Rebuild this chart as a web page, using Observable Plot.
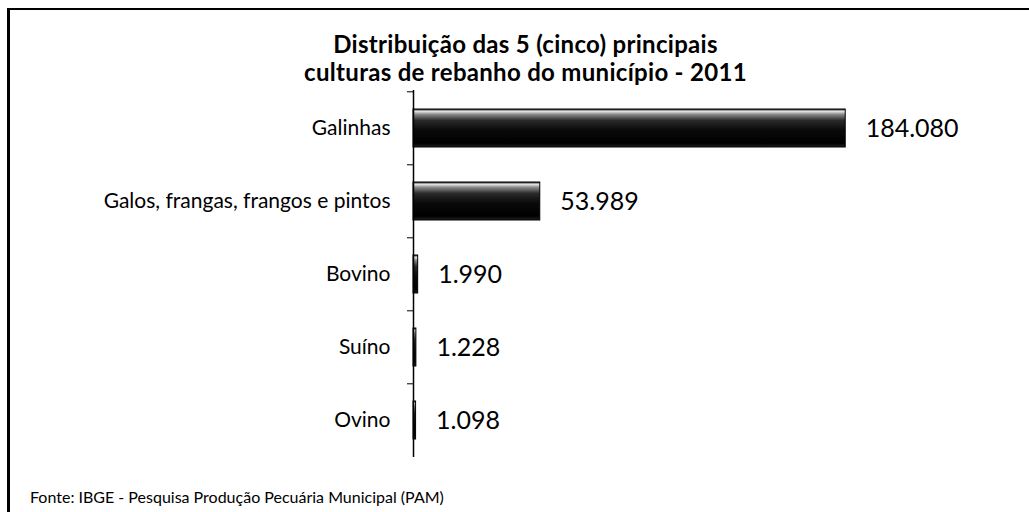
<!DOCTYPE html>
<html>
<head>
<meta charset="utf-8">
<script src="https://cdn.jsdelivr.net/npm/d3@7"></script>
<script src="https://cdn.jsdelivr.net/npm/@observablehq/plot@0.6"></script>
<style>
  html, body { margin: 0; padding: 0; background: #fff; }
  #wrap { position: relative; width: 1029px; height: 512px; overflow: hidden; background: #fff; font-family: Lato, "Open Sans", sans-serif; color: #000; }
  #borderTop { position: absolute; left: 7px; top: 8px; width: 1022px; height: 2px; background: #000; }
  #borderLeft { position: absolute; left: 7px; top: 8px; width: 3px; height: 504px; background: #000; }
  #title { position: absolute; left: 0; width: 1029px; top: 30px; padding-left: 22px; box-sizing: border-box; text-align: center; font-weight: bold; font-size: 24px; line-height: 28px; letter-spacing: 0.3px; }
  #chart { position: absolute; left: 0; top: 85px; }
  #footer { position: absolute; left: 30px; top: 487px; font-size: 16px; line-height: 20px; }
</style>
</head>
<body>
<div id="wrap">
  <div id="borderTop"></div>
  <div id="borderLeft"></div>
  <div id="title"></div>
  <div id="chart"></div>
  <div id="footer"></div>
</div>
<script>
const titleLines = ["Distribuição das 5 (cinco) principais", "culturas de rebanho do município - 2011"];
const footerText = "Fonte: IBGE - Pesquisa Produção Pecuária Municipal (PAM)";
const categories = ["Galinhas", "Galos, frangas, frangos e pintos", "Bovino", "Suíno", "Ovino"];
const values = [184080, 53989, 1990, 1228, 1098];

const data = categories.map((c, i) => ({category: c, value: values[i]}));
const fmt = d3.formatLocale({decimal: ",", thousands: ".", grouping: [3], currency: ["", ""]}).format(",");

document.getElementById("title").innerHTML = titleLines.join("<br>");
document.getElementById("footer").textContent = footerText;

const defs = () => {
  const d = d3.create("svg:defs");
  const g = d.append("linearGradient").attr("id", "barGrad").attr("x1", 0).attr("y1", 0).attr("x2", 0).attr("y2", 1);
  [[0, "#111"], [0.06, "#e6e6e6"], [0.14, "#8a8a8a"], [0.3, "#2a2a2a"], [0.55, "#0a0a0a"], [0.9, "#000"], [1, "#222"]]
    .forEach(([o, c]) => g.append("stop").attr("offset", o).attr("stop-color", c));
  return d.node();
};

const H = 384, mTop = 5, mBottom = 12;
const step = (H - mTop - mBottom) / categories.length;

const chart = Plot.plot({
  width: 1029,
  height: H,
  marginTop: mTop,
  marginBottom: mBottom,
  marginLeft: 413,
  marginRight: 29,
  x: {domain: [0, 250000], axis: null},
  y: {domain: categories, paddingInner: 0.48, paddingOuter: 0.24, label: null, axis: null},
  style: {fontFamily: "Lato, 'Open Sans', sans-serif", color: "#000", background: "transparent"},
  marks: [
    defs,
    Plot.barX(data, {x: "value", y: "category", fill: "url(#barGrad)", stroke: "#000", strokeWidth: 1}),
    Plot.axisY({tickSize: 0, tickPadding: 23, fontSize: 21, label: null}),
    Plot.axisY({tickSize: 6, text: null, label: null, dy: -step / 2, stroke: "#000"}),
    Plot.ruleX([0], {stroke: "#000", strokeWidth: 1.5}),
    Plot.text(data, {x: "value", y: "category", text: d => fmt(d.value), dx: 20, textAnchor: "start", fontSize: 25, fill: "#000"})
  ]
});
document.getElementById("chart").appendChild(chart);
</script>
</body>
</html>
